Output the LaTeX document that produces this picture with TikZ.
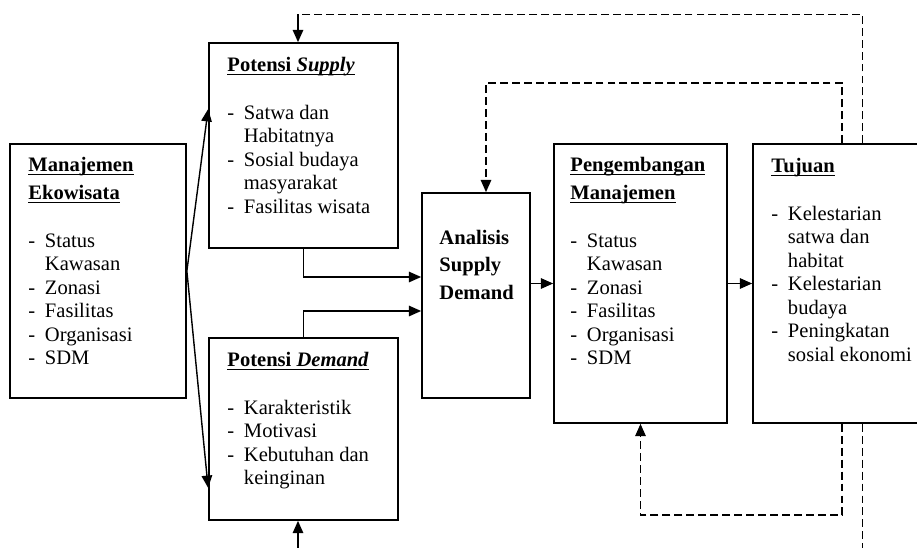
\documentclass[tikz,border=0pt]{standalone}
\usepackage{fontspec}
\setmainfont{Liberation Serif}
\usetikzlibrary{positioning, calc, arrows.meta}

\newcommand{\itm}{\makebox[0.33cm][l]{-}}
\newcommand{\ind}{\hspace*{0.33cm}}
\newcommand{\ttl}[1]{\textbf{\setbox0\hbox{#1}\rlap{\rule[-2.2pt]{\wd0}{0.6pt}}\box0}}
\newcommand{\lst}[1]{\begin{tabular}[t]{@{}l@{}}#1\end{tabular}}

\tikzset{
	box/.style={draw, line width=1pt, rectangle, inner sep=0pt},
	txt/.style={anchor=base west, inner sep=0pt, font=\fontsize{11.7}{13.4}\selectfont},
	arr/.style={-{Triangle[length=7pt,width=6pt]}, line width=0.8pt},
	fb/.style={dash pattern=on 4.5pt off 2.3pt, line width=0.7pt},
}

\begin{document}
\begin{tikzpicture}[x=0.02cm, y=-0.02cm]
			\useasboundingbox (0,0) rectangle (917,548);
			\clip (0,0) rectangle (917,548);

			% Manajemen Ekowisata
			\node (Manajemen) at (98,271) [box, minimum width=3.52cm, minimum height=5.08cm]{};
			\node (ManajemenText) at ($(Manajemen.north west)+(19,28)$) [txt]{\lst{\ttl{Manajemen}\\[2.6pt]\ttl{Ekowisata}\\[13.9pt]\itm Status\\\ind Kawasan\\\itm Zonasi\\\itm Fasilitas\\\itm Organisasi\\\itm SDM}};

			% Potensi Supply
			\node (Supply) at (303.5,145.5) [box, minimum width=3.78cm, minimum height=4.1cm]{};
			\node (SupplyText) at ($(Supply.north west)+(19,29)$) [txt]{\lst{\ttl{Potensi \textit{Supply}}\\[13.9pt]\itm Satwa dan\\\ind Habitatnya\\\itm Sosial budaya\\\ind masyarakat\\\itm Fasilitas wisata}};

			% Potensi Demand
			\node (Demand) at (303.5,429) [box, minimum width=3.78cm, minimum height=3.64cm]{};
			\node (DemandText) at ($(Demand.north west)+(19,29)$) [txt]{\lst{\ttl{Potensi \textit{Demand}}\\[13.9pt]\itm Karakteristik\\\itm Motivasi\\\itm Kebutuhan dan\\\ind keinginan}};

			% Analisis Supply Demand
			\node (Analisis) at (476,295.5) [box, minimum width=2.16cm, minimum height=4.1cm]{};
			\node (AnalisisText) at ($(Analisis.north west)+(18,52)$) [txt]{\lst{\textbf{Analisis}\\[2.3pt]\textbf{Supply}\\[2.3pt]\textbf{Demand}}};

			% Pengembangan Manajemen
			\node (Pengembangan) at (640.5,283.5) [box, minimum width=3.46cm, minimum height=5.58cm]{};
			\node (PengembanganText) at ($(Pengembangan.north west)+(17,28)$) [txt]{\lst{\ttl{Pengembangan}\\[2.6pt]\ttl{Manajemen}\\[13.9pt]\itm Status\\\ind Kawasan\\\itm Zonasi\\\itm Fasilitas\\\itm Organisasi\\\itm SDM}};

			% Tujuan
			\node (Tujuan) at (840.5,283.5) [box, minimum width=3.5cm, minimum height=5.58cm]{};
			\node (TujuanText) at ($(Tujuan.north west)+(19,29)$) [txt]{\lst{\ttl{Tujuan}\\[13.9pt]\itm Kelestarian\\\ind satwa dan\\\ind habitat\\\itm Kelestarian\\\ind budaya\\\itm Peningkatan\\\ind sosial ekonomi}};

			% Manajemen to both potentials
			\draw[arr] (Manajemen.east) -- ($(Supply.north west)+(0,67)$);
			\draw[arr] (Manajemen.east) -- ($(Demand.south west)+(0,-33)$);

			% potentials to analysis
			\draw[arr] (Supply.south) |- ($(Analisis.west)+(0,-18.5)$);
			\draw[arr] (Demand.north) |- ($(Analisis.west)+(0,15.5)$);

			% main chain
			\draw[arr] (Analisis.east |- Pengembangan.west) -- (Pengembangan.west);
			\draw[arr] (Pengembangan.east) -- (Tujuan.west);

			% feedback loops
			\draw[fb, arr] ($(Tujuan.north west)+(90,0)$) -- ++(0,-60) -| ($(Analisis.north)+(10,0)$);

			\coordinate (TopTurn) at ($(Supply.north)+(-5.5,-28)$);
			\draw[fb] ($(Tujuan.north west)+(110,0)$) |- (TopTurn);
			\draw[arr] (TopTurn) -- ($(Supply.north)+(-5.5,0)$);

			\draw[fb, arr] ($(Tujuan.south west)+(90,0)$) -- ++(0,91) -| (Pengembangan.south);

			\coordinate (BottomEnd) at ($(Tujuan.south west)+(110,130)$);
			\draw[fb] ($(Tujuan.south west)+(110,0)$) -- (BottomEnd);

			\coordinate (DemandIn) at ($(Demand.south)+(-5.5,32)$);
			\draw[arr] (DemandIn) -- ($(Demand.south)+(-5.5,0)$);

\end{tikzpicture}
\end{document}
